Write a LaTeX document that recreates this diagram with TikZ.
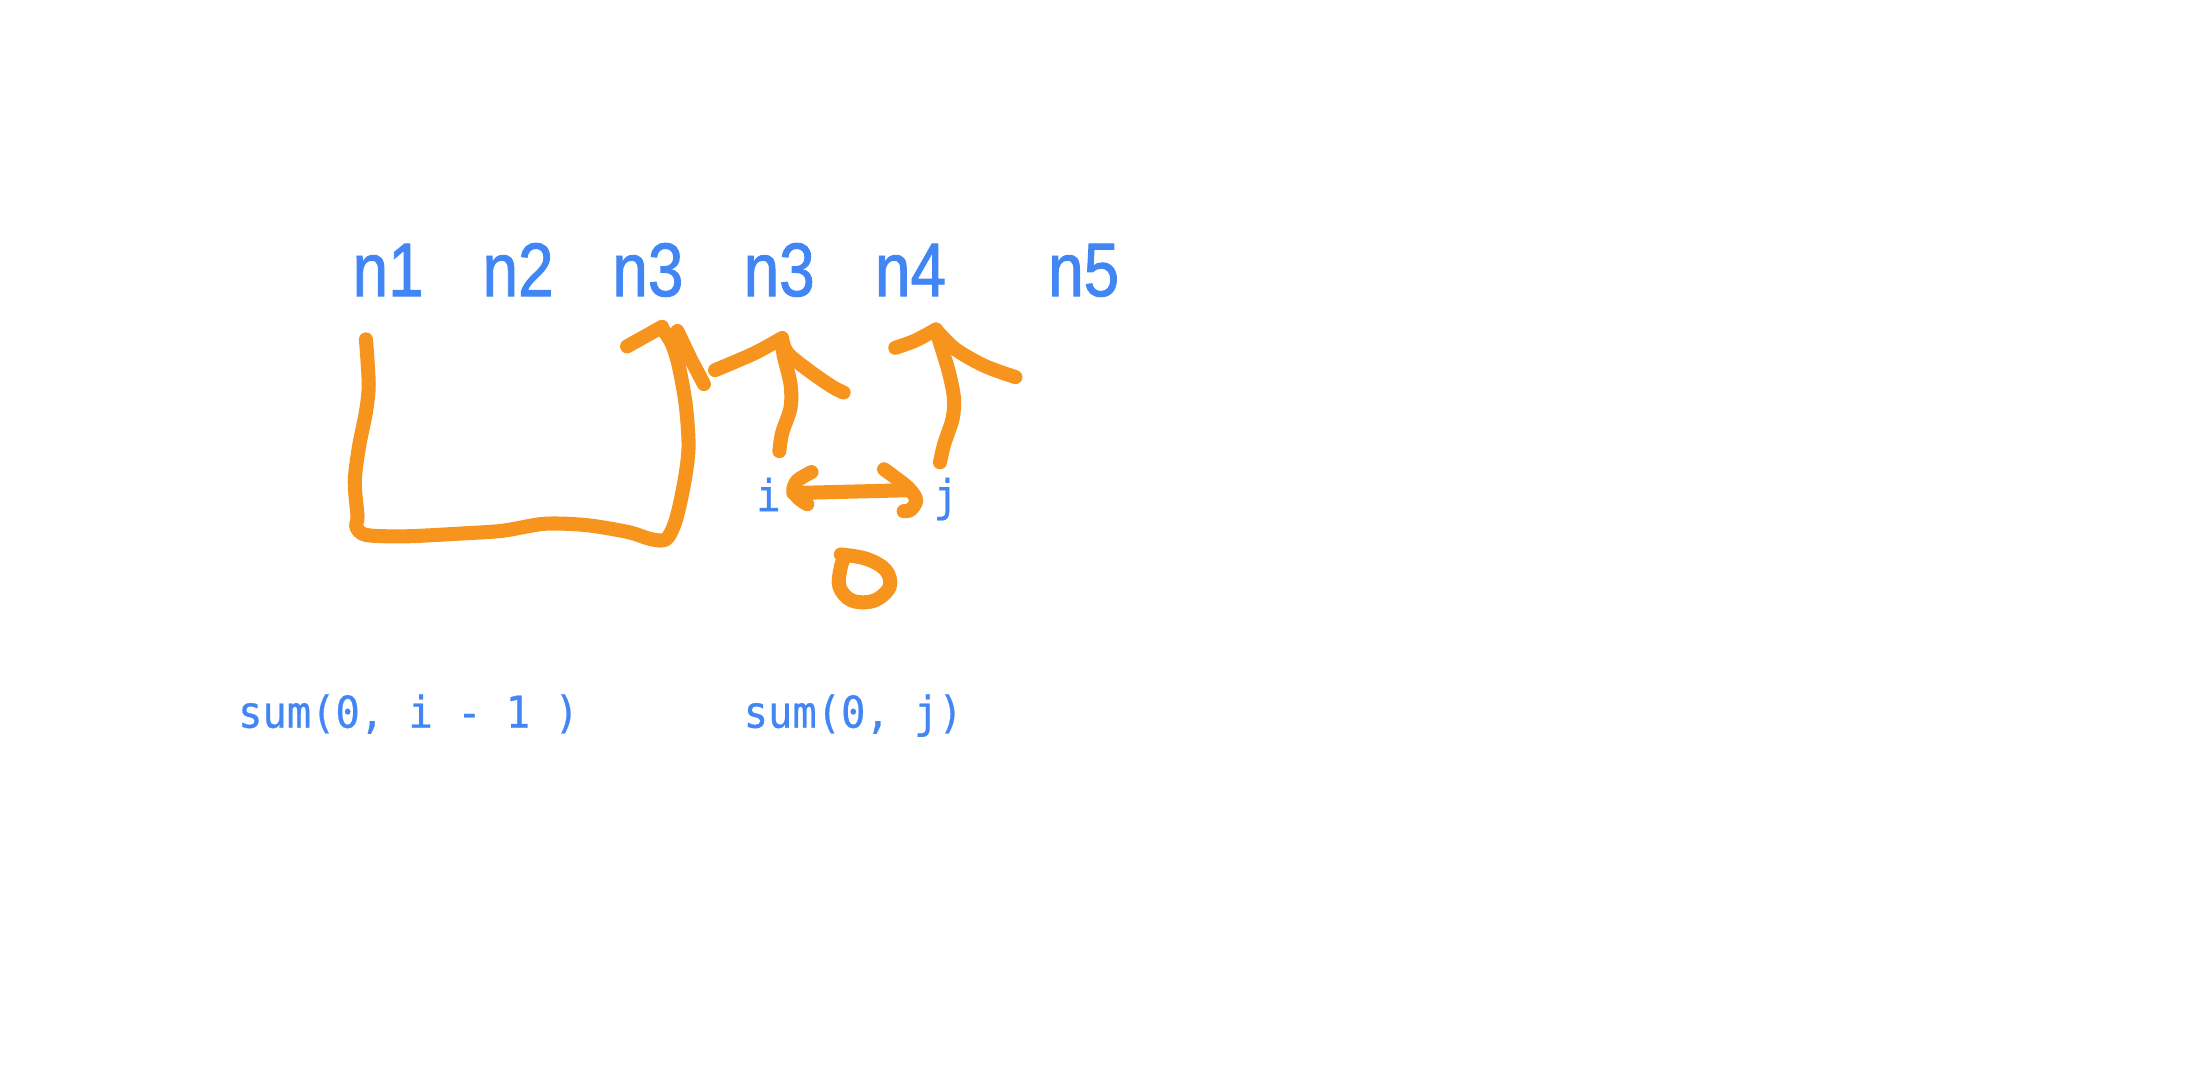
\documentclass[tikz,border=0pt]{standalone}
\usepackage{fontspec}
\setmainfont[FakeStretch=0.84, FakeBold=1.2]{Liberation Sans}
\setmonofont[FakeStretch=0.92, FakeBold=0.6]{DejaVu Sans Mono}
\definecolor{pen}{RGB}{247,148,30}
\definecolor{ink}{RGB}{66,133,244}
\tikzset{
  stroke/.style={pen, line width=4pt, line cap=round, line join=round},
  lbl/.style={ink, anchor=base west, inner sep=0pt, font=\fontsize{21.6}{24}\selectfont},
  code/.style={ink, anchor=base west, inner sep=0pt, font=\ttfamily\fontsize{12.5}{14}\selectfont}
}

\begin{document}
\begin{tikzpicture}[x=0.013967cm, y=-0.013967cm]
\useasboundingbox (0,0) rectangle (1568,772);
\node[lbl] (n1) at (252,212) {n1};
\node[lbl] (n2) at (345,212) {n2};
\node[lbl] (n3a) at (438,212) {n3};
\node[lbl] (n3b) at (532,212) {n3};
\node[lbl] (n4) at (626,212) {n4};
\node[lbl] (n5) at (750,212) {n5};
\node[code] (i) at (541,366) {i};
\node[code] (j) at (668,366) {j};
\node[code] (sumi) at (170,521) {sum(0, i - 1 )};
\node[code] (sumj) at (532,521) {sum(0, j)};
\draw[stroke] plot[smooth, tension=0.5] coordinates {(262,243) (264,275) (262,295) (257,320) (254,345) (256,370) (255,377) (262,383) (290,384) (330,382) (360,380) (390,375) (420,376) (450,381) (466,386) (477,386) (484,372) (490,345) (493,320) (491,290) (486,262) (481,246) (474,235)};
\draw[stroke] (474,234) -- (449,248);
\draw[stroke] (485,237) -- (495,258) -- (504,275);
\draw[stroke] plot[smooth, tension=0.5] coordinates {(558,323) (560,310) (566,292) (566,275) (561,254) (560,243)};
\draw[stroke] plot[smooth, tension=0.5] coordinates {(512,265) (540,253) (560,242)};
\draw[stroke] plot[smooth, tension=0.5] coordinates {(560,243) (564,253) (580,266) (596,277) (604,281)};
\draw[stroke] plot[smooth, tension=0.5] coordinates {(673,331) (676,318) (682,300) (683,285) (679,265) (670,236)};
\draw[stroke] plot[smooth, tension=0.5] coordinates {(641,249) (655,244) (670,236)};
\draw[stroke] plot[smooth, tension=0.5] coordinates {(670,236) (684,250) (705,262) (727,270)};
\draw[stroke] (568,353) -- (650,351);
\draw[stroke] plot[smooth, tension=0.5] coordinates {(581,338) (571,344) (568,351) (572,357) (578,361)};
\draw[stroke] plot[smooth, tension=0.5] coordinates {(633,336) (650,349) (656,358) (652,365) (647,366)};
\draw[stroke] plot[smooth, tension=0.6] coordinates {(602,397) (620,400) (634,408) (637,420) (626,430) (610,430) (601,420) (602,406) (605,398)};
\end{tikzpicture}
\end{document}
